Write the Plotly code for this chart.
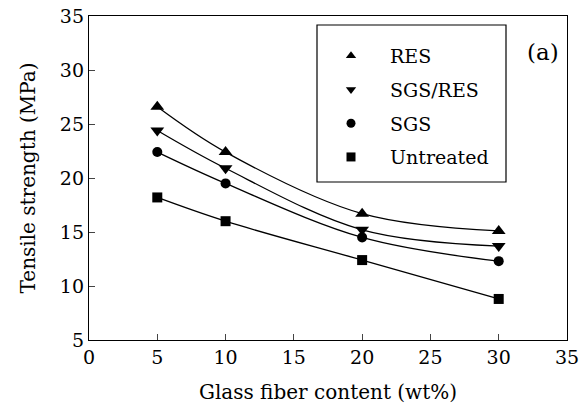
import plotly.graph_objects as go

fiber = [5, 10, 20, 30]
res = [26.6, 22.4, 16.7, 15.1]
sgs_res = [24.4, 20.9, 15.2, 13.7]
sgs = [22.4, 19.5, 14.5, 12.3]
untreated = [18.2, 16.0, 12.4, 8.8]

series = [
    ("RES", res, "triangle-up", 12),
    ("SGS/RES", sgs_res, "triangle-down", 12),
    ("SGS", sgs, "circle", 10),
    ("Untreated", untreated, "square", 10),
]

FONT = "DejaVu Serif"
fig = go.Figure()
for name, vals, sym, sz in series:
    fig.add_trace(go.Scatter(x=fiber, y=vals, mode="lines",
                             line=dict(color="black", width=1.3, shape="spline", smoothing=1.0),
                             showlegend=False, hoverinfo="skip"))
for name, vals, sym, sz in series:
    fig.add_trace(go.Scatter(x=fiber, y=vals, mode="markers", name=name, showlegend=False,
                             marker=dict(symbol=sym, size=sz, color="black")))
for name, vals, sym, sz in series:
    fig.add_trace(go.Scatter(x=[None], y=[None], mode="markers", name=name, legendgroup=name,
                             marker=dict(symbol=sym, size=9, color="black")))

L, T, W, H = 89, 16, 478, 324
fig.update_layout(
    width=587, height=412,
    margin=dict(l=L, r=587 - L - W, t=T, b=412 - T - H),
    paper_bgcolor="white", plot_bgcolor="white",
    font=dict(family=FONT, size=18, color="black"),
    legend=dict(x=(312 - 89) / 478, y=1 - (37 - 16) / 324, xanchor="left", yanchor="top", borderwidth=0,
                bgcolor="rgba(0,0,0,0)", itemwidth=68, tracegroupgap=6, font=dict(size=19, family=FONT)),
    shapes=[dict(type="rect", xref="paper", yref="paper", x0=(317 - 89) / 478, x1=(506 - 89) / 478,
                 y0=1 - (182 - 16) / 324, y1=1 - (25 - 16) / 324, line=dict(color="black", width=1.2))],
    annotations=[dict(text="(a)", xref="paper", yref="paper", x=(543 - 89) / 478, y=1 - (52 - 16) / 324,
                      showarrow=False, font=dict(size=23, family=FONT), xanchor="center", yanchor="middle")],
)
fig.update_xaxes(range=[0, 35], tickvals=[0, 5, 10, 15, 20, 25, 30, 35], ticks="inside", ticklen=6,
                 showline=True, linecolor="black", linewidth=1.3, mirror=True, showgrid=False, zeroline=False,
                 automargin=False, ticklabeloverflow="allow",
                 title=dict(text="Glass fiber content (wt%)", standoff=18, font=dict(size=20, family=FONT)),
                 tickfont=dict(size=19, family=FONT))
fig.update_yaxes(range=[5, 35], tickvals=[5, 10, 15, 20, 25, 30, 35], ticks="inside", ticklen=6,
                 showline=True, linecolor="black", linewidth=1.3, mirror=True, showgrid=False, zeroline=False,
                 automargin=False, ticklabeloverflow="allow",
                 title=dict(text="Tensile strength (MPa)", standoff=18, font=dict(size=20, family=FONT)),
                 tickfont=dict(size=19, family=FONT))

fig.write_html("out.html", config={"displayModeBar": False},
               post_script="document.body.style.margin='0';")
